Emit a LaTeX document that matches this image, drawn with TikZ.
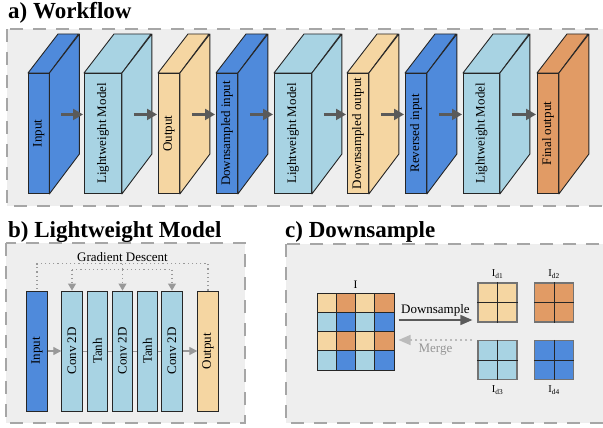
\documentclass[tikz,border=0pt]{standalone}
\usepackage{fontspec}
\setmainfont{Liberation Serif}
\usetikzlibrary{calc, arrows.meta}

\definecolor{deepblue}{HTML}{4F8ADB}
\definecolor{paleblue}{HTML}{A8D3E3}
\definecolor{paleorange}{HTML}{F5D6A2}
\definecolor{darkorange}{HTML}{E19B65}
\definecolor{panelgray}{HTML}{EEEEEE}
\definecolor{dashgray}{HTML}{A6A6A6}
\definecolor{arrowgray}{HTML}{5A5A5A}
\definecolor{linegray}{HTML}{999999}
\definecolor{mergegray}{HTML}{BBBBBB}

\tikzset{
    panel/.style={fill=panelgray, draw=dashgray, line width=1.3pt, dash pattern=on 13pt off 10pt},
    title/.style={anchor=base west, inner sep=0pt, font=\fontsize{23}{23}\selectfont\bfseries},
    face/.style={draw=black!85, line width=0.9pt, inner sep=0pt, minimum height=120pt, font=\fontsize{13}{13}\selectfont},
    slabside/.style={draw=black!85, line width=0.9pt, line join=round},
    flow/.style={arrowgray, line width=2.2pt, -{Triangle[length=10pt, width=11pt]}},
    layer/.style={draw=black!85, line width=0.9pt, inner sep=0pt, minimum width=20.5pt, minimum height=120pt, font=\fontsize{13}{13}\selectfont},
    link/.style={linegray, line width=0.8pt},
    feed/.style={linegray, line width=1.2pt, -{Triangle[length=8pt, width=8pt]}},
    grad/.style={linegray, line width=1.1pt, dash pattern=on 1.2pt off 3pt},
    gradtip/.style={-{Triangle[length=7pt, width=8pt]}},
    cellline/.style={draw=black!85, line width=1pt},
    minigrid/.style={draw=black!55, line width=1.3pt, inner sep=0pt, minimum size=39pt},
    push/.style={arrowgray, line width=1.6pt, -{Triangle[length=12pt, width=10pt]}},
    pull/.style={mergegray, line width=1.4pt, dash pattern=on 2pt off 3pt, -{Triangle[length=12pt, width=10pt]}},
    lbl/.style={font=\fontsize{13}{13}\selectfont},
    sublbl/.style={font=\fontsize{10.5}{10.5}\selectfont}
}

% slab: name, left x, width, colour, text
\newcommand{\slab}[5]{
    \node[face, fill=#4, minimum width=#3pt, anchor=north west] (#1) at (#2,73) {\rotatebox{90}{#5}};
    \draw[slabside, fill=#4] (#1.north west) -- ++(30,-39) -- ++(#3,0) -- (#1.north east) -- cycle;
    \draw[slabside, fill=#4] (#1.north east) -- ++(30,-39) -- ++(0,120) -- (#1.south east) -- cycle;
}

\begin{document}
\begin{tikzpicture}[x=1pt, y=-1pt]
    \useasboundingbox (0,0) rectangle (603,428);
    \clip (0,0) rectangle (603,428);

    % a) workflow
    \node[title] (ta) at (8,19) {a) Workflow};
    \path[panel] (7,29) rectangle (620,206);

    \slab{inp}{28}{20.5}{deepblue}{Input}
    \slab{lw1}{84}{37}{paleblue}{Lightweight Model}
    \slab{out}{158}{21}{paleorange}{Output}
    \slab{dsin}{216}{21}{deepblue}{Downsampled input}
    \slab{lw2}{274}{37}{paleblue}{Lightweight Model}
    \slab{dsout}{347}{21}{paleorange}{Downsampled output}
    \slab{rev}{405}{21}{deepblue}{Reversed input}
    \slab{lw3}{463}{36}{paleblue}{Lightweight Model}
    \slab{fin}{537}{21}{darkorange}{Final output}

    \foreach \a/\b in {inp/lw1, lw1/out, out/dsin, dsin/lw2, lw2/dsout, dsout/rev, rev/lw3, lw3/fin}
        \draw[flow] ($(\a.east)+(12,-19)$) -- ($(\b.west)+(-1,-19)$);

    % b) lightweight model
    \node[title] (tb) at (8,237) {b) Lightweight Model};
    \path[panel] (6,243) rectangle (245,423);

    \node[layer, fill=deepblue] (bin) at (37,351) {\rotatebox{90}{Input}};
    \node[layer, fill=paleblue] (conv1) at (72,351) {\rotatebox{90}{Conv 2D}};
    \node[layer, fill=paleblue] (tanh1) at (97.5,351) {\rotatebox{90}{Tanh}};
    \node[layer, fill=paleblue] (conv2) at (122.5,351) {\rotatebox{90}{Conv 2D}};
    \node[layer, fill=paleblue] (tanh2) at (147.5,351) {\rotatebox{90}{Tanh}};
    \node[layer, fill=paleblue] (conv3) at (172,351) {\rotatebox{90}{Conv 2D}};
    \node[layer, fill=paleorange] (bout) at (208,351) {\rotatebox{90}{Output}};

    \path[feed] (bin) edge (conv1);
    \path[link] (conv1) edge (tanh1) (tanh1) edge (conv2) (conv2) edge (tanh2) (tanh2) edge (conv3);
    \path[feed] (conv3) edge (bout);

    \draw[grad] (bout.north) -- ++(0,-27) -| (bin.north);
    \draw[grad] ($(conv1.north)+(0,-21)$) -- ($(conv3.north)+(0,-21)$);
    \draw[grad] ($(conv2.north)+(0,-27)$) -- ++(0,6);
    \foreach \n in {conv1, conv2, conv3}
        \draw[grad, gradtip] ($(\n.north)+(0,-21)$) -- (\n.north);
    \node[lbl, anchor=base] (gd) at (122.5,261) {Gradient Descent};

    % c) downsample
    \node[title] (tc) at (285,237) {c) Downsample};
    \path[panel] (286,244) rectangle (620,423);

    \foreach \r/\ca/\cb in {0/paleorange/darkorange, 1/paleblue/deepblue, 2/paleorange/darkorange, 3/paleblue/deepblue}
        \foreach \c in {0,2} {
            \fill[\ca] (317+\c*19.25, 293+\r*19.25) rectangle ++(19.25,19.25);
            \fill[\cb] (336.25+\c*19.25, 293+\r*19.25) rectangle ++(19.25,19.25);
        }
    \foreach \k in {1,2,3} {
        \draw[cellline] (317+\k*19.25,293) -- ++(0,77);
        \draw[cellline] (317,293+\k*19.25) -- ++(77,0);
    }
    \node[cellline, inner sep=0pt, minimum size=77pt] (img) at (355.5,331.5) {};
    \node[font=\fontsize{11.5}{11.5}\selectfont, above=0.5pt] (imglbl) at (img.north) {I};

    \node[minigrid, fill=paleorange] (id1) at (497.5,302.5) {};
    \node[minigrid, fill=darkorange] (id2) at (554,302.5) {};
    \node[minigrid, fill=paleblue] (id3) at (497.5,360) {};
    \node[minigrid, fill=deepblue] (id4) at (554,360) {};
    \foreach \n in {id1, id2, id3, id4}
        \draw[cellline] (\n.north) -- (\n.south) (\n.west) -- (\n.east);

    \node[sublbl, above=0.5pt] (lbl1) at (id1.north) {I\textsubscript{d1}};
    \node[sublbl, above=0.5pt] (lbl2) at (id2.north) {I\textsubscript{d2}};
    \node[sublbl, below=2pt] (lbl3) at (id3.south) {I\textsubscript{d3}};
    \node[sublbl, below=2pt] (lbl4) at (id4.south) {I\textsubscript{d4}};

    \draw[push] ($(img.east)+(4,-11.5)$) -- ($(id1.west)+(-5,17.5)$) node[midway, above, lbl, text=black] {Downsample};
    \draw[pull] ($(id3.west)+(-5,-20)$) -- ($(img.east)+(4,8.5)$) node[midway, below, lbl, text=mergegray!80!black] {Merge};
\end{tikzpicture}
\end{document}
